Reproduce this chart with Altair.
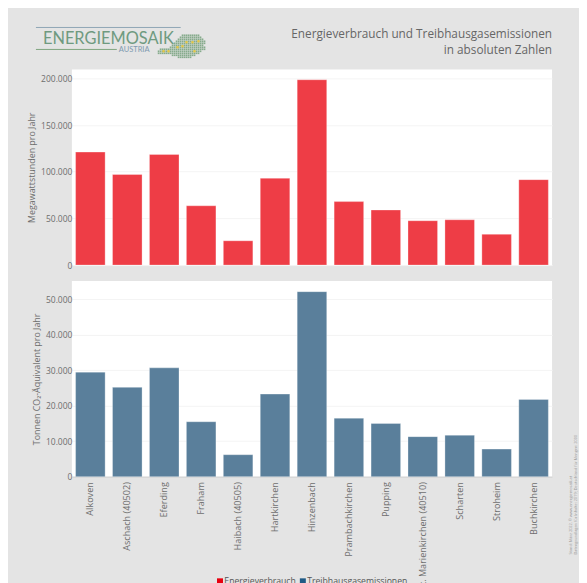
import altair as alt
import pandas as pd

places = ["Alkoven", "Aschach (40502)", "Eferding", "Fraham", "Haibach (40505)", "Hartkirchen",
          "Hinzenbach", "Prambachkirchen", "Pupping", "St. Marienkirchen (40510)", "Scharten",
          "Stroheim", "Buchkirchen"]
energy = [121000, 97000, 118500, 63500, 26000, 93000, 198500, 68000, 59000, 47500, 48500, 33000, 91500]
ghg = [29500, 25200, 30700, 15500, 6200, 23300, 52200, 16500, 15000, 11300, 11700, 7800, 21800]
series = ["Energieverbrauch", "Treibhausgasemissionen"]
legend_colors = ["#e8000f", "#1f5a85"]

# Logo map outline: row, first column, last column; then the gold dots as column, row
map_rows = [(0, 12, 20), (1, 11, 21), (2, 10, 22), (3, 9, 23), (4, 8, 23), (5, 7, 22), (6, 6, 23),
            (7, 1, 23), (8, 0, 21), (9, 0, 20), (10, 7, 18), (11, 10, 16)]
map_dots = [(17, 3.5), (20, 3), (12, 5.5), (14, 3.5), (18, 8), (9.5, 6), (2.5, 8), (5, 8)]

PX = alt.Scale(domain=[0, 481])
FONT = "Open Sans"
GREY = "#6e6e6e"
BG = "#e4e4e4"
W, H = 481, 196
fmt = "replace(format(datum.value, ','), ',', '.')"

cells = pd.DataFrame([
    {"x": 86 + c * 2, "x2": 86 + c * 2 + 1.7, "y": 25 + r * 2, "y2": 25 + r * 2 + 1.7}
    for r, a, b in map_rows for c in range(a, b + 1)])
dots = pd.DataFrame([{"x": 86 + c * 2 + 0.8, "y": 25 + r * 2 + 0.8} for c, r in map_dots])
PY = alt.Scale(domain=[0, 60], range=[0, 60])


def txt(s, x, y, size, color, align="left", angle=0, weight=None, font=FONT):
    kw = {"fontWeight": weight} if weight else {}
    return alt.Chart(pd.DataFrame({"t": [s]})).mark_text(
        font=font, fontSize=size, color=color, align=align, angle=angle, baseline="middle", **kw
    ).encode(text="t:N", x=alt.value(x), y=alt.value(y))


def line(x, x2, y, color):
    return alt.Chart(pd.DataFrame({"a": [0]})).mark_rule(color=color, strokeWidth=1).encode(
        x=alt.value(x), x2=alt.value(x2), y=alt.value(y))


header = alt.layer(
    alt.Chart(cells).mark_rect(color="#86ab8c").encode(
        x=alt.X("x:Q", scale=PX, axis=None), x2="x2:Q",
        y=alt.Y("y:Q", scale=PY, axis=None), y2="y2:Q"),
    alt.Chart(dots).mark_square(size=5, color="#e8c840", opacity=1).encode(
        x=alt.X("x:Q", scale=PX, axis=None), y=alt.Y("y:Q", scale=PY, axis=None)),
    line(-36, 109, 18, "#8fa6b5"),
    line(-36, 45, 40, "#7fa57f"),
    txt("ENERGIEMOSAIK", -29, 29.5, 16.4, "#6f9a80", font="Lato"),
    txt("AUSTRIA", 47, 41, 7.5, "#7f9ab0", font="Lato"),
    txt("Energieverbrauch und Treibhausgasemissionen", 481, 25, 11.8, "#666666", align="right"),
    txt("in absoluten Zahlen", 481, 41, 11.8, "#666666", align="right"),
).properties(width=W, height=44, view=alt.ViewBackground(fill=BG, stroke=None))


def panel(values, name, color, ymax, ytitle, ticks, bottom=False):
    df = pd.DataFrame({"place": places, "value": values, "series": name})
    x_axis = alt.Axis(title=None, labelAngle=-90, labelFontSize=9.1, labelColor=GREY, labelFont=FONT,
                      ticks=False, domain=True, domainColor="#cccccc", labelPadding=5,
                      labelLimit=300) if bottom else None
    y_axis = alt.Axis(title=ytitle, titleFontSize=8.9, titleColor=GREY, titleFont=FONT, titleFontWeight="normal",
                      labelFontSize=8.5, labelColor=GREY, labelFont=FONT, values=ticks, labelExpr=fmt,
                      ticks=False, domain=False, gridColor="#f4f4f4", labelPadding=0, titlePadding=4)
    legend = None
    if bottom:
        legend = alt.Legend(orient="none", legendX=144, legendY=296, direction="horizontal", title=None,
                            symbolType="square", symbolSize=36, symbolStrokeWidth=0, symbolOpacity=1,
                            labelFontSize=8.7, labelColor="#555555", labelFont=FONT, columnPadding=2,
                            labelOffset=0)
    bars = alt.Chart(df).mark_bar(stroke="#ffffff", strokeWidth=0.5, strokeOpacity=0.6).encode(
        x=alt.X("place:N", sort=places, axis=x_axis, scale=alt.Scale(paddingInner=0.2, paddingOuter=0.1)),
        y=alt.Y("value:Q", axis=y_axis, scale=alt.Scale(domain=[0, ymax], nice=False)),
        color=alt.value(color),
    )
    layers = [bars]
    if bottom:
        key = alt.Chart(pd.DataFrame({"series": series})).mark_square(opacity=0, size=1).encode(
            color=alt.Color("series:N", scale=alt.Scale(domain=series, range=legend_colors), legend=legend),
            x=alt.value(0), y=alt.value(0))
        layers.append(key)
        layers.append(txt("Stand: März 2022. © www.energiemosaik.at", 500, 274, 3.9, "#999999", angle=270))
        layers.append(txt("Datengrundlagen für Inhalte: 2019; Deutschland für Mengen: 2000", 505, 274, 3.9, "#999999", angle=270))
    return alt.layer(*layers).properties(width=W, height=H, view=alt.ViewBackground(fill="#ffffff", stroke=None))


top = panel(energy, series[0], "#ee3d46", 209600, "Megawattstunden pro Jahr", [0, 50000, 100000, 150000, 200000])
bottom = panel(ghg, series[1], "#5a7f9b", 55200, "Tonnen CO₂-Äquivalent pro Jahr",
               [0, 10000, 20000, 30000, 40000, 50000], bottom=True)

chart = alt.vconcat(header, top, bottom, spacing=16, bounds="flush").properties(
    background=BG, padding={"left": 19, "top": 1, "right": 1, "bottom": 0}
).resolve_scale(color="independent", x="independent", y="independent")

chart.save("out.html", embed_options={"renderer": "svg", "actions": False})
